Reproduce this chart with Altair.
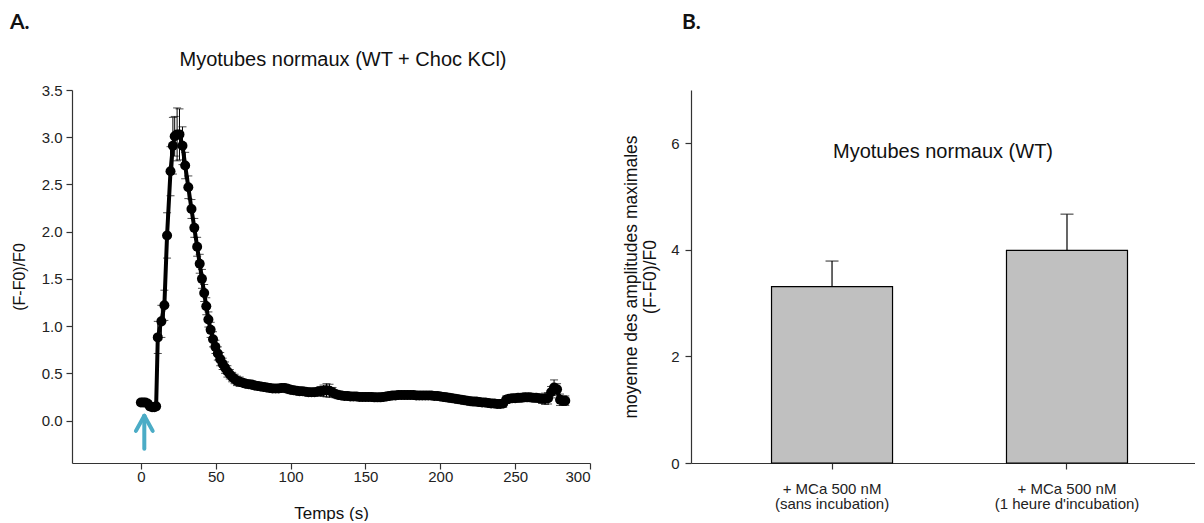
import altair as alt
import pandas as pd

# ---------------- Panel A data: time course ----------------
time_s = [0.0, 1.5, 3.0, 4.5, 6.0, 7.5, 9.0, 10.2,
          11.3, 13.7, 15.7, 17.5, 19.8, 21.4, 22.6, 24.2, 25.8, 27.8, 29.6, 31.7,
          33.8, 35.7, 37.6, 39.3, 40.8, 42.3, 43.7, 45.1, 46.6, 48.2, 49.8, 51.4,
          53.0, 54.6, 56.2, 57.8, 59.4, 61.0, 62.6, 64.2, 66.0,
          68, 70, 72, 74, 76, 78, 80, 82, 84, 86, 88, 90, 92, 94, 96, 98,
          100, 102, 104, 106, 108, 110, 112, 114, 116, 118, 120, 122, 124, 126, 128,
          130, 132, 134, 136, 138, 140, 142, 144, 146, 148, 150, 152, 154, 156, 158,
          160, 162, 164, 166, 168, 170, 172, 174, 176, 178, 180, 182, 184, 186, 188,
          190, 192, 194, 196, 198, 200, 202, 204, 206, 208, 210, 212, 214, 216, 218,
          220, 222, 224, 226, 228, 230, 232, 234, 236, 238, 240, 242, 244, 246, 248,
          250, 252, 254, 256, 258, 260, 262, 264, 266, 268, 270, 272, 274, 276, 278,
          280, 282, 283.5]
ratio = [0.19, 0.19, 0.19, 0.18, 0.15, 0.14, 0.14, 0.15,
         0.88, 1.05, 1.22, 1.96, 2.64, 2.91, 3.01, 3.03, 3.03, 2.91, 2.70, 2.47,
         2.24, 2.04, 1.84, 1.66, 1.50, 1.35, 1.21, 1.07, 0.96, 0.86, 0.78, 0.71,
         0.65, 0.60, 0.56, 0.52, 0.49, 0.46, 0.44, 0.42, 0.41,
         0.40, 0.39, 0.385, 0.38, 0.37, 0.365, 0.36, 0.355, 0.35, 0.345, 0.34, 0.34, 0.34, 0.345, 0.345, 0.335,
         0.325, 0.32, 0.315, 0.31, 0.31, 0.305, 0.30, 0.30, 0.30, 0.305, 0.31, 0.315, 0.32, 0.315, 0.30,
         0.28, 0.27, 0.265, 0.26, 0.26, 0.255, 0.255, 0.255, 0.25, 0.25, 0.25, 0.25, 0.25, 0.245, 0.245,
         0.245, 0.25, 0.255, 0.26, 0.265, 0.265, 0.27, 0.27, 0.27, 0.27, 0.27, 0.27, 0.265, 0.265, 0.265,
         0.265, 0.265, 0.265, 0.26, 0.26, 0.255, 0.25, 0.245, 0.24, 0.235, 0.23, 0.225, 0.22, 0.215, 0.21,
         0.205, 0.20, 0.20, 0.195, 0.19, 0.19, 0.185, 0.18, 0.18, 0.175, 0.175, 0.18, 0.22, 0.23, 0.235,
         0.235, 0.24, 0.24, 0.245, 0.245, 0.245, 0.24, 0.24, 0.235, 0.23, 0.23, 0.235, 0.30, 0.35, 0.33,
         0.22, 0.21, 0.21]
sem = [0.03, 0.03, 0.03, 0.03, 0.02, 0.02, 0.02, 0.02,
       0.17, 0.17, 0.16, 0.24, 0.26, 0.30, 0.21, 0.28, 0.27, 0.20, 0.14, 0.12,
       0.10, 0.10, 0.10, 0.10, 0.10, 0.09, 0.09, 0.08, 0.08, 0.08, 0.07, 0.07,
       0.07, 0.06, 0.06, 0.06, 0.05, 0.05, 0.05, 0.05, 0.05,
       0.04, 0.04, 0.04, 0.04, 0.04, 0.04, 0.04, 0.04, 0.04, 0.04, 0.04, 0.04, 0.04, 0.04, 0.04, 0.04,
       0.04, 0.04, 0.04, 0.04, 0.04, 0.04, 0.04, 0.04, 0.04, 0.04, 0.05, 0.06, 0.07, 0.07, 0.05,
       0.04, 0.04, 0.04, 0.04, 0.04, 0.04, 0.04, 0.04, 0.04, 0.04, 0.04, 0.04, 0.04, 0.04, 0.04,
       0.04, 0.04, 0.04, 0.04, 0.04, 0.04, 0.04, 0.04, 0.04, 0.04, 0.04, 0.04, 0.04, 0.04, 0.04,
       0.04, 0.04, 0.04, 0.04, 0.04, 0.04, 0.04, 0.04, 0.04, 0.04, 0.04, 0.04, 0.04, 0.04, 0.04,
       0.04, 0.04, 0.04, 0.04, 0.04, 0.04, 0.04, 0.04, 0.04, 0.04, 0.04, 0.04, 0.04, 0.04, 0.04,
       0.04, 0.04, 0.04, 0.04, 0.04, 0.04, 0.04, 0.04, 0.04, 0.05, 0.06, 0.06, 0.06, 0.08, 0.06,
       0.06, 0.05, 0.05]
x_ticks_a = [0, 50, 100, 150, 200, 250, 300]
y_ticks_a = [0.0, 0.5, 1.0, 1.5, 2.0, 2.5, 3.0, 3.5]

# stimulus arrow (annotation)
arrow_t = 2.3
arrow_y = [-0.30, 0.05]
arrow_arm = [5.6, -0.11]

# ---------------- Panel B data: mean amplitudes ----------------
cond_line1 = ["+ MCa  500 nM", "+ MCa 500 nM"]
cond_line2 = ["(sans incubation)", "(1 heure d'incubation)"]
amp_mean = [3.31, 3.99]
amp_err = [0.48, 0.68]
y_ticks_b = [0, 2, 4, 6]

FONT = "Liberation Sans"
BLACK = "#000000"
AXC = "#333333"

df = pd.DataFrame({"t": time_s, "v": ratio, "e": sem})
df["lo"] = df["v"] - df["e"]
df["hi"] = df["v"] + df["e"]

WA, HA = 518, 373
xs = alt.Scale(domain=[-46, 300], nice=False, zero=False)
ys = alt.Scale(domain=[-0.45, 3.5], nice=False, zero=False)

base = alt.Chart(df)
x_enc = alt.X("t:Q", scale=xs,
              axis=alt.Axis(values=x_ticks_a, format="d", title="Temps (s)", titleY=50,
                            titleBaseline="middle", titleFontSize=17,
                            labelFontSize=15, tickSize=6, labelPadding=0))
y_enc = alt.Y("v:Q", scale=ys,
              axis=alt.Axis(values=y_ticks_a, format=".1f", title="(F-F0)/F0",
                            titleX=-53, titleBaseline="middle", titleFontSize=16,
                            labelFontSize=15, tickSize=6, labelPadding=4))

err_rule = base.mark_rule(color=BLACK, strokeWidth=1).encode(
    x=x_enc, y=alt.Y("lo:Q", scale=ys), y2="hi:Q")
cap_hi = base.mark_tick(color=BLACK, orient="horizontal", size=8, thickness=1).encode(
    x="t:Q", y=alt.Y("hi:Q", scale=ys))
cap_lo = base.mark_tick(color=BLACK, orient="horizontal", size=8, thickness=1).encode(
    x="t:Q", y=alt.Y("lo:Q", scale=ys))
line = base.mark_line(color=BLACK, strokeWidth=4).encode(x=x_enc, y=y_enc)
pts = base.mark_circle(color=BLACK, size=100, opacity=1).encode(x="t:Q", y="v:Q")

arrow_df = pd.DataFrame({
    "x": [arrow_t, arrow_t - arrow_arm[0], arrow_t + arrow_arm[0]],
    "x2": [arrow_t, arrow_t, arrow_t],
    "y": [arrow_y[0], arrow_arm[1], arrow_arm[1]],
    "y2": [arrow_y[1], arrow_y[1], arrow_y[1]],
})
arrow = alt.Chart(arrow_df).mark_rule(color="#4BACC6", strokeWidth=4, strokeCap="round").encode(
    x=alt.X("x:Q", scale=xs), x2="x2:Q", y=alt.Y("y:Q", scale=ys), y2="y2:Q")

title_a = alt.Chart(pd.DataFrame({"s": ["Myotubes normaux (WT + Choc KCl)"]})).mark_text(
    font=FONT, fontSize=20, color="#111", align="center", baseline="middle").encode(
    text="s:N", x=alt.value(271), y=alt.value(-30))
letter_a = alt.Chart(pd.DataFrame({"s": ["A."]})).mark_text(
    font="Lato", fontSize=21, fontWeight="bold", color="#111", align="left", baseline="middle").encode(
    text="s:N", x=alt.value(-62), y=alt.value(-67))

panel_a = alt.layer(err_rule, cap_hi, cap_lo, line, pts, arrow, title_a, letter_a).properties(
    width=WA, height=HA)

# ---------------- Panel B ----------------
dfb = pd.DataFrame({
    "cond": [a + "\n" + b for a, b in zip(cond_line1, cond_line2)],
    "m": amp_mean, "e": amp_err,
})
dfb["top"] = dfb["m"] + dfb["e"]
cats = list(dfb["cond"])

WB, HB = 504, 373
xb = alt.X("cond:N", sort=cats,
           scale=alt.Scale(paddingInner=0.485, paddingOuter=0.315, align=0.544),
           axis=alt.Axis(title=None, labelAngle=0, labelExpr="split(datum.label, '\\n')",
                         labelFontSize=15, labelLineHeight=15, tickSize=6, labelPadding=12))
ybs = alt.Scale(domain=[0, 7], nice=False)
yb = alt.Y("m:Q", scale=ybs,
           axis=alt.Axis(values=y_ticks_b, format="d",
                         title=["moyenne des amplitudes maximales", "(F-F0)/F0"],
                         titleX=-60, titleBaseline="middle", titleFontSize=17.5,
                         titleLineHeight=19, labelFontSize=15, tickSize=6, labelPadding=6))
bb = alt.Chart(dfb)
bars = bb.mark_bar(color="#C0C0C0", stroke=BLACK, strokeWidth=1.2).encode(x=xb, y=yb)
err_b = bb.mark_rule(color=BLACK, strokeWidth=1.2).encode(
    x=alt.X("cond:N", sort=cats), y=alt.Y("m:Q", scale=ybs), y2="top:Q")
cap_b = bb.mark_tick(color=BLACK, orient="horizontal", size=13, thickness=1.2).encode(
    x=alt.X("cond:N", sort=cats), y=alt.Y("top:Q", scale=ybs))
title_b = alt.Chart(pd.DataFrame({"s": ["Myotubes normaux (WT)"]})).mark_text(
    font=FONT, fontSize=20, color="#111", align="center", baseline="middle").encode(
    text="s:N", x=alt.value(252), y=alt.value(62))
letter_b = alt.Chart(pd.DataFrame({"s": ["B."]})).mark_text(
    font="Lato", fontSize=21, fontWeight="bold", color="#111", align="left", baseline="middle").encode(
    text="s:N", x=alt.value(-9), y=alt.value(-67))

panel_b = alt.layer(bars, err_b, cap_b, title_b, letter_b).properties(width=WB, height=HB)

chart = alt.hconcat(panel_a, panel_b, spacing=101, bounds="flush").configure(
    padding={"left": 2, "top": 4, "right": 0, "bottom": 0},
    font=FONT,
).configure_view(stroke=None).configure_axis(
    grid=False, domainColor=AXC, tickColor=AXC, labelColor="#222", titleColor="#111",
    labelFont=FONT, titleFont=FONT, titleFontWeight="normal", domainWidth=1.2, tickWidth=1.2,
)

chart.save("out.html", embed_options={"renderer": "svg", "actions": False})
